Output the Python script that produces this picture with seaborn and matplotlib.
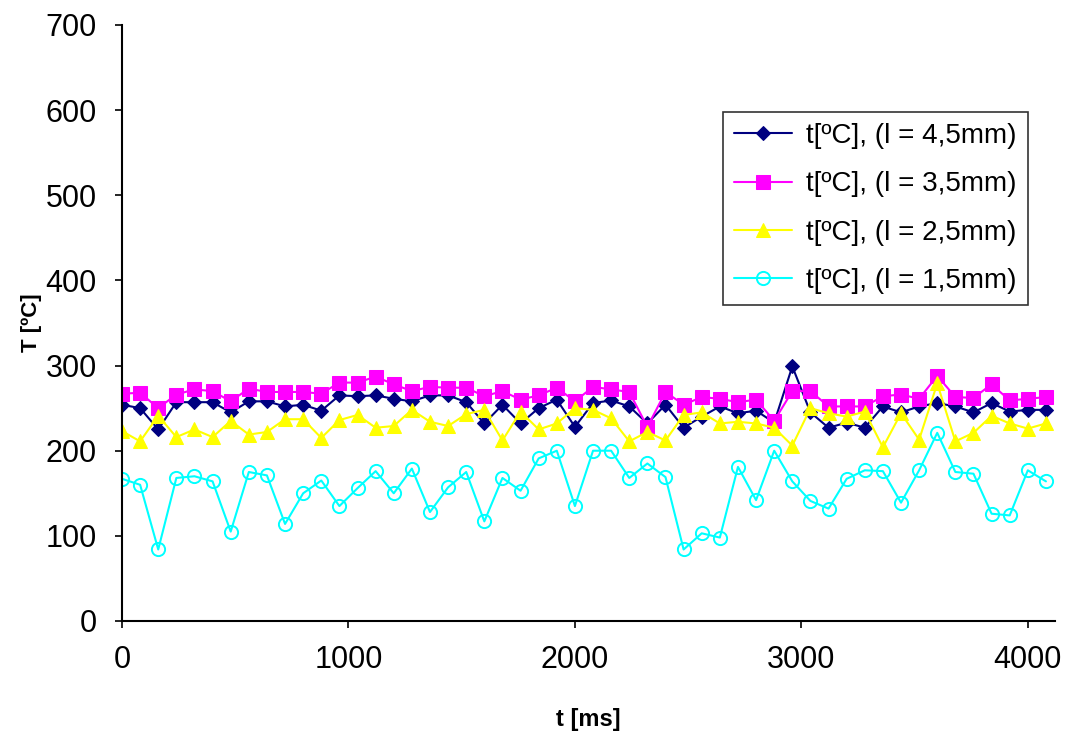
import numpy as np
import pandas as pd
import seaborn as sns
import matplotlib
matplotlib.use("Agg")
import matplotlib.pyplot as plt

# time axis [ms]
t_ms = [0, 80, 160, 240, 320, 400, 480, 560, 640, 720, 800, 880, 960, 1040, 1120, 1200,
        1280, 1360, 1440, 1520, 1600, 1680, 1760, 1840, 1920, 2000, 2080, 2160, 2240, 2320,
        2400, 2480, 2560, 2640, 2720, 2800, 2880, 2960, 3040, 3120, 3200, 3280, 3360, 3440,
        3520, 3600, 3680, 3760, 3840, 3920, 4000, 4080]

t_45 = [254, 250, 225, 257, 257, 257, 245, 258, 258, 252, 254, 247, 265, 264, 265, 261,
        258, 265, 265, 257, 232, 254, 232, 250, 260, 228, 256, 259, 252, 232,
        254, 227, 240, 252, 244, 247, 233, 299, 245, 227, 233, 227, 252, 245,
        252, 256, 252, 245, 256, 246, 248, 248]

t_35 = [267, 268, 250, 266, 272, 270, 258, 273, 269, 269, 269, 267, 280, 280, 287, 278,
        270, 275, 274, 274, 264, 270, 260, 265, 274, 258, 275, 272, 269, 228,
        269, 254, 263, 261, 257, 260, 235, 270, 270, 252, 252, 252, 264, 266,
        261, 288, 263, 262, 278, 259, 261, 263]

t_25 = [223, 211, 241, 216, 225, 216, 235, 219, 222, 237, 237, 215, 236, 242, 227, 229,
        248, 234, 229, 243, 248, 212, 246, 225, 232, 250, 248, 238, 211, 222,
        212, 242, 245, 232, 234, 232, 227, 206, 250, 244, 240, 246, 204, 244,
        213, 279, 211, 221, 241, 232, 226, 232]

t_15 = [167, 160, 84, 168, 170, 164, 105, 175, 171, 114, 150, 165, 135, 156, 176, 150,
        179, 128, 157, 175, 117, 168, 153, 191, 200, 135, 200, 200, 168, 185,
        169, 84, 103, 98, 181, 142, 200, 164, 141, 132, 167, 177, 176, 139,
        177, 221, 175, 173, 126, 124, 177, 164]

labels = ["t[ºC], (l = 4,5mm)", "t[ºC], (l = 3,5mm)", "t[ºC], (l = 2,5mm)", "t[ºC], (l = 1,5mm)"]
x_ticks = [0, 1000, 2000, 3000, 4000]
y_ticks = [0, 100, 200, 300, 400, 500, 600, 700]

sns.set_style("white")
plt.rcParams['font.family'] = ['Liberation Sans', 'DejaVu Sans']
plt.rcParams['text.color'] = 'black'
plt.rcParams['axes.labelcolor'] = 'black'
plt.rcParams['xtick.color'] = 'black'
plt.rcParams['ytick.color'] = 'black'

fig = plt.figure(figsize=(10.7, 7.34), dpi=100)
ax = fig.add_axes([122/1070, 1 - 621/734, (1055 - 122)/1070, (621 - 25)/734])

styles = [
    dict(color="#000080", marker="D", markersize=7.5, markerfacecolor="#000080", markeredgecolor="#000080"),
    dict(color="#FF00FF", marker="s", markersize=9.5, markerfacecolor="#FF00FF", markeredgecolor="#FF00FF"),
    dict(color="#FFFF00", marker="^", markersize=10.5, markerfacecolor="#FFFF00", markeredgecolor="#FFFF00"),
    dict(color="#00FFFF", marker="o", markersize=9.5, markerfacecolor="none", markeredgecolor="#00FFFF",
         markeredgewidth=1.4),
]
series = [t_45, t_35, t_25, t_15]
for vals, lab, st in zip(series, labels, styles):
    df = pd.DataFrame({"t": t_ms, "T": vals})
    sns.lineplot(data=df, x="t", y="T", ax=ax, label=lab, linewidth=1.5, **st)

ax.set_xlim(0, 4120)
ax.set_ylim(0, 700)
ax.set_xticks(x_ticks)
ax.set_yticks(y_ticks)
ax.tick_params(axis='both', direction='out', length=5, width=1.2, labelsize=22, color='black',
               labelcolor='black', bottom=True, left=True)
ax.tick_params(axis='x', pad=12)
ax.tick_params(axis='y', pad=13)
for side in ["top", "right"]:
    ax.spines[side].set_visible(False)
for side in ["left", "bottom"]:
    ax.spines[side].set_color("black")
    ax.spines[side].set_linewidth(1.5)

ax.set_xlabel("t [ms]", fontsize=17, fontweight="bold", labelpad=24, color='black')
ax.set_ylabel("T [ºC]", fontsize=16, fontweight="bold", labelpad=3, color='black')

leg = ax.legend(loc="upper right", bbox_to_anchor=(0.971, 0.854), borderaxespad=0,
                fontsize=20, frameon=True, fancybox=False, edgecolor="black",
                handlelength=2.1, labelspacing=0.8, borderpad=0.4, handletextpad=0.5)
leg.get_frame().set_linewidth(1.2)
for txt in leg.get_texts():
    txt.set_color('black')

fig.savefig("out.png", dpi=100)
